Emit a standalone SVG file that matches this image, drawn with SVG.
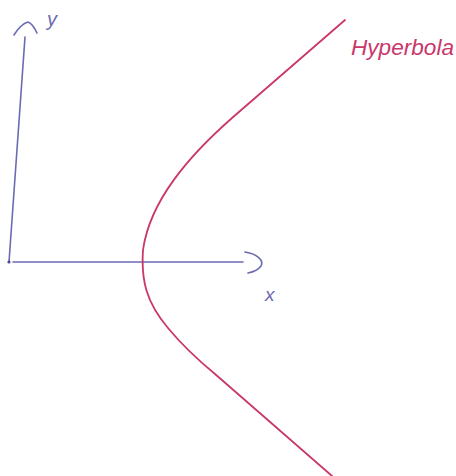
<svg xmlns="http://www.w3.org/2000/svg" width="456" height="476" viewBox="0 0 456 476">
<style>
.ax{fill:none;stroke:#6b6bb2;stroke-width:1.6;stroke-linecap:round;stroke-linejoin:round}
.hy{fill:none;stroke:#c9376b;stroke-width:1.8;stroke-linecap:round;stroke-linejoin:round}
.axt{font-family:"Liberation Sans",sans-serif;font-style:italic;fill:#6b6bb2}
.hyt{font-family:"Liberation Sans",sans-serif;font-style:italic;fill:#c9376b}
</style>
<rect width="456" height="476" fill="#ffffff"/>
<g id="axes">
<path class="ax" d="M25,37 L9,262"/>
<path class="ax" d="M14,35 Q21,24 28,22 Q33,24 37,33"/>
<path class="ax" d="M13,262 L243,262"/>
<path class="ax" d="M245,252 C258,254 264,261 261,266 C258,270 253,272 248,273"/>
<circle cx="9" cy="262" r="1.6" fill="#4a4a8a"/>
</g>
<g id="hyperbola">
<path class="hy" d="M345,20 L232,118 C190,155 150,200 143,250 C141,280 146,302 168,328 C182,345 198,360 215,374 L332,476"/>
</g>
<g id="labels">
<text class="axt" x="47" y="26" font-size="20">y</text>
<text class="axt" x="265" y="301" font-size="19">x</text>
<text class="hyt" x="351" y="55" font-size="22" textLength="103" lengthAdjust="spacingAndGlyphs">Hyperbola</text>
</g>
</svg>
